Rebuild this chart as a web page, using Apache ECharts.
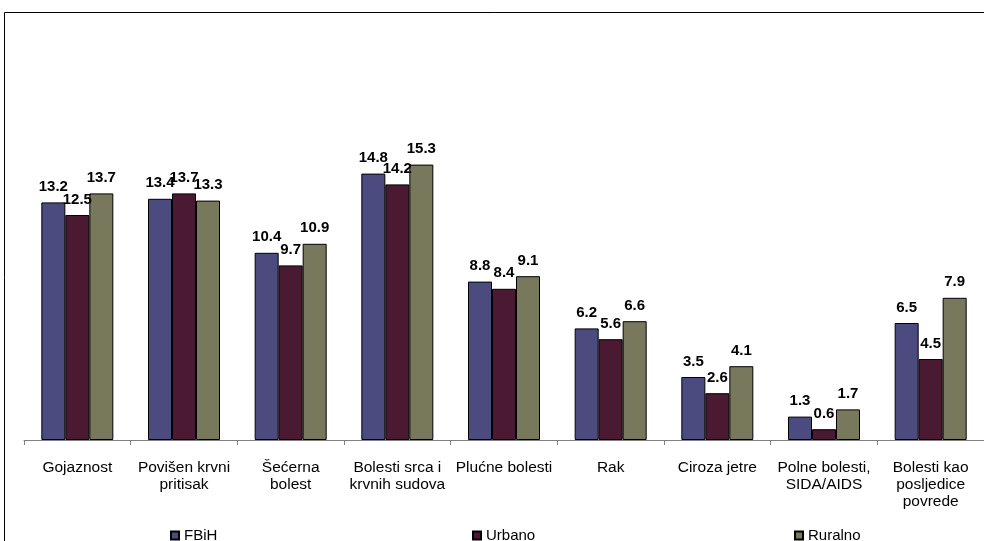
<!DOCTYPE html>
<html>
<head>
<meta charset="utf-8">
<script src="https://cdn.jsdelivr.net/npm/echarts@6/dist/echarts.min.js"></script>
<style>
html,body{margin:0;padding:0;background:#fff;}
#chart{width:984px;height:541px;}
</style>
</head>
<body>
<div id="chart"></div>
<script>
const categories = [
  'Gojaznost',
  'Povišen krvni\npritisak',
  'Šećerna\nbolest',
  'Bolesti srca i\nkrvnih sudova',
  'Plućne bolesti',
  'Rak',
  'Ciroza jetre',
  'Polne bolesti,\nSIDA/AIDS',
  'Bolesti kao\nposljedice\npovrede'
];
const seriesNames = ['FBiH', 'Urbano', 'Ruralno'];
const fbih = [13.2, 13.4, 10.4, 14.8, 8.8, 6.2, 3.5, 1.3, 6.5];
const urbano = [12.5, 13.7, 9.7, 14.2, 8.4, 5.6, 2.6, 0.6, 4.5];
const ruralno = [13.7, 13.3, 10.9, 15.3, 9.1, 6.6, 4.1, 1.7, 7.9];
const colors = ['#4b4b80', '#4a1932', '#77785c'];

const font = '"Liberation Sans", Arial, sans-serif';
const chart = echarts.init(document.getElementById('chart'), null, {renderer: 'canvas'});

function mkSeries(name, data, color) {
  return {
    name: name,
    type: 'bar',
    data: data,
    barGap: '0%',
    barCategoryGap: '32.5%',
    itemStyle: {color: color, borderColor: '#000', borderWidth: 1},
    label: {
      show: true,
      position: 'top',
      distance: 8,
      color: '#000',
      fontFamily: font,
      fontSize: 15,
      fontWeight: 'bold'
    },
    emphasis: {disabled: true}
  };
}

const legendBase = {
  orient: 'horizontal',
  top: 523,
  itemWidth: 8,
  itemHeight: 8,
  itemGap: 10,
  icon: 'rect',
  textStyle: {fontFamily: font, fontSize: 15, color: '#000'},
  selectedMode: false
};

chart.setOption({
  animation: false,
  backgroundColor: '#fff',
  graphic: [{
    type: 'rect',
    shape: {x: 4.5, y: 12.5, width: 1200, height: 800},
    style: {fill: 'none', stroke: '#000', lineWidth: 1},
    silent: true,
    z: -1
  }],
  legend: [
    Object.assign({}, legendBase, {data: [seriesNames[0]], left: 165}),
    Object.assign({}, legendBase, {data: [seriesNames[1]], left: 467}),
    Object.assign({}, legendBase, {data: [seriesNames[2]], left: 789})
  ],
  grid: {left: 24, right: 0, top: 80, bottom: 101, containLabel: false},
  xAxis: {
    type: 'category',
    data: categories,
    axisLine: {lineStyle: {color: '#808080', width: 1}},
    axisTick: {show: true, length: 5, lineStyle: {color: '#808080'}},
    axisLabel: {
      interval: 0,
      margin: 19,
      fontFamily: font,
      fontSize: 15.5,
      lineHeight: 17,
      color: '#000',
      align: 'center'
    }
  },
  yAxis: {
    type: 'value',
    min: 0,
    max: 20,
    show: false,
    splitLine: {show: false}
  },
  series: [
    mkSeries(seriesNames[0], fbih, colors[0]),
    mkSeries(seriesNames[1], urbano, colors[1]),
    mkSeries(seriesNames[2], ruralno, colors[2])
  ]
});
</script>
</body>
</html>
